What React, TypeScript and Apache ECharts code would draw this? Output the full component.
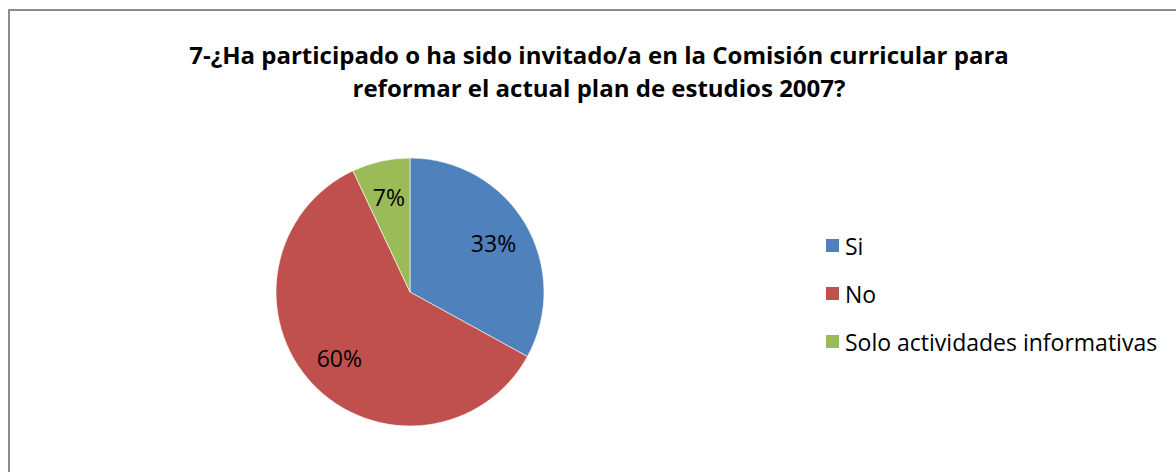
import React, { useEffect, useRef } from "react";
import * as echarts from "echarts";

const titleLines = [
  "7-¿Ha participado o ha sido invitado/a en la Comisión curricular para",
  "reformar el actual plan de estudios 2007?",
];
const categories = ["Si", "No", "Solo actividades informativas"];
const values = [33, 60, 7];
const colors = ["#4F81BD", "#C0504D", "#9BBB59"];

const FONT = "'Open Sans', 'Noto Sans', sans-serif";

export default function App() {
  const ref = useRef<HTMLDivElement>(null);
  useEffect(() => {
    document.body.style.margin = "0";
    const chart = echarts.init(ref.current!, null, { renderer: "svg" });
    const data = categories.map((name, i) => ({
      name,
      value: values[i],
      itemStyle: { color: colors[i] },
    }));
    chart.setOption({
      animation: false,
      backgroundColor: "#ffffff",
      title: {
        text: titleLines.join("\n"),
        left: 599,
        textAlign: "center",
        top: 38,
        padding: 0,
        textStyle: {
          fontFamily: FONT,
          fontWeight: "bold",
          fontSize: 24,
          lineHeight: 33,
          color: "#000",
        },
      },
      legend: {
        orient: "vertical",
        left: 824,
        top: 233,
        padding: 0,
        itemWidth: 15,
        itemHeight: 15,
        itemGap: 23,
        icon: "rect",
        textStyle: { fontFamily: FONT, fontSize: 23, lineHeight: 25, color: "#000" },
        data: categories,
      },
      graphic: [
        {
          type: "rect",
          shape: { x: 9, y: 10, width: 1300, height: 600 },
          style: { fill: "none", stroke: "#8c8c8c", lineWidth: 2 },
          silent: true,
        },
      ],
      series: [
        {
          type: "pie",
          center: [410, 292],
          radius: [0, 134],
          startAngle: 90,
          clockwise: true,
          label: { show: false },
          labelLine: { show: false },
          itemStyle: { borderColor: "#ffffff", borderWidth: 0.6 },
          data,
        },
        {
          type: "pie",
          center: [410, 292],
          radius: [54, 134],
          startAngle: 90,
          clockwise: true,
          silent: true,
          legendHoverLink: false,
          itemStyle: { color: "rgba(0,0,0,0)" },
          label: {
            show: true,
            position: "inside",
            formatter: "{c}%",
            fontFamily: FONT,
            fontSize: 23,
            color: "#000",
          },
          labelLine: { show: false },
          data: categories.map((name, i) => ({ name, value: values[i] })),
        },
      ],
    });
    return () => chart.dispose();
  }, []);
  return <div ref={ref} style={{ width: 1176, height: 472 }} />;
}
